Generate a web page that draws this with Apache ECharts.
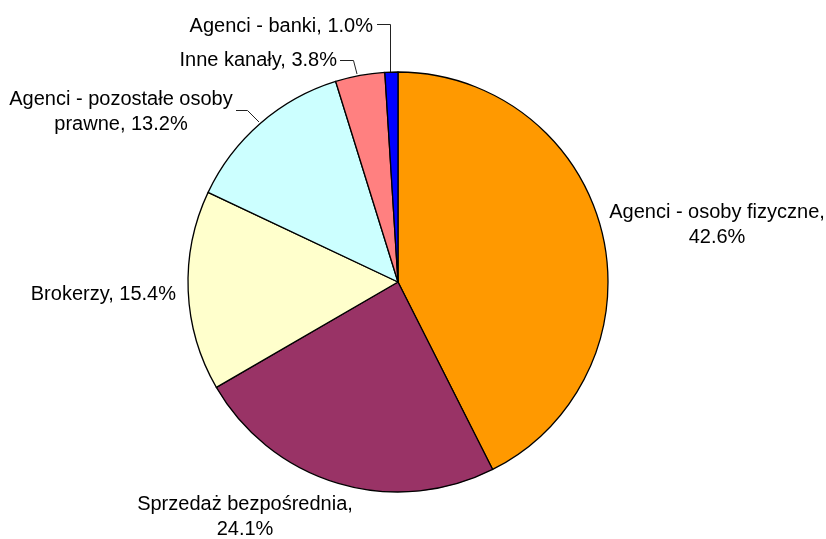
<!DOCTYPE html>
<html>
<head>
<meta charset="utf-8">
<script src="https://cdn.jsdelivr.net/npm/echarts@6/dist/echarts.min.js"></script>
<style>
  html, body { margin: 0; padding: 0; background: #fff; }
  #chart { width: 826px; height: 539px; }
</style>
</head>
<body>
<div id="chart"></div>
<script>
// Distribution channels and their shares (%)
const channels = [
  'Agenci - osoby fizyczne',
  'Sprzedaż bezpośrednia',
  'Brokerzy',
  'Agenci - pozostałe osoby prawne',
  'Inne kanały',
  'Agenci - banki'
];
const shares = [42.6, 24.1, 15.4, 13.2, 3.8, 1.0];
const labelTexts = [
  'Agenci - osoby fizyczne,\n42.6%',
  'Sprzedaż bezpośrednia,\n24.1%',
  'Brokerzy, 15.4%',
  'Agenci - pozostałe osoby\nprawne, 13.2%',
  'Inne kanały, 3.8%',
  'Agenci - banki, 1.0%'
];
const sliceColors = ['#FF9900', '#993366', '#FFFFCC', '#CCFFFF', '#FF8080', '#0000FF'];

// Label placement and leader lines for each slice
const labelPlacement = [
  { x: 717, y: 225, align: 'center' },
  { x: 245, y: 517, align: 'center' },
  { x: 176, y: 294, align: 'right' },
  { x: 121, y: 112, align: 'center' },
  { x: 337, y: 60, align: 'right' },
  { x: 373, y: 26, align: 'right' }
];
const leaderLines = [
  null,
  null,
  null,
  [[259, 122], [247.5, 110.5], [236, 110.5]],
  [[357, 74], [353.5, 60.5], [340, 60.5]],
  [[390.5, 72], [390.5, 24.5], [377, 24.5]]
];

const chart = echarts.init(document.getElementById('chart'));
chart.setOption({
  animation: false,
  backgroundColor: '#ffffff',
  series: [{
    type: 'pie',
    center: [398, 282],
    radius: 210,
    startAngle: 90,
    clockwise: true,
    avoidLabelOverlap: false,
    itemStyle: { borderColor: '#000', borderWidth: 1.3 },
    label: {
      show: true,
      position: 'outside',
      color: '#000',
      fontFamily: 'Liberation Sans, Arial, sans-serif',
      fontSize: 20,
      lineHeight: 25,
      formatter: p => labelTexts[p.dataIndex]
    },
    labelLine: {
      show: true,
      lineStyle: { color: '#222', width: 1 }
    },
    labelLayout: function (params) {
      const i = params.dataIndex;
      const pl = labelPlacement[i];
      const out = {
        x: pl.x,
        y: pl.y,
        align: pl.align,
        verticalAlign: 'middle'
      };
      if (leaderLines[i]) out.labelLinePoints = leaderLines[i];
      return out;
    },
    data: channels.map((name, i) => ({
      name: name,
      value: shares[i],
      itemStyle: { color: sliceColors[i] },
      label: { align: labelPlacement[i].align },
      labelLine: { show: !!leaderLines[i] }
    }))
  }]
});
</script>
</body>
</html>
